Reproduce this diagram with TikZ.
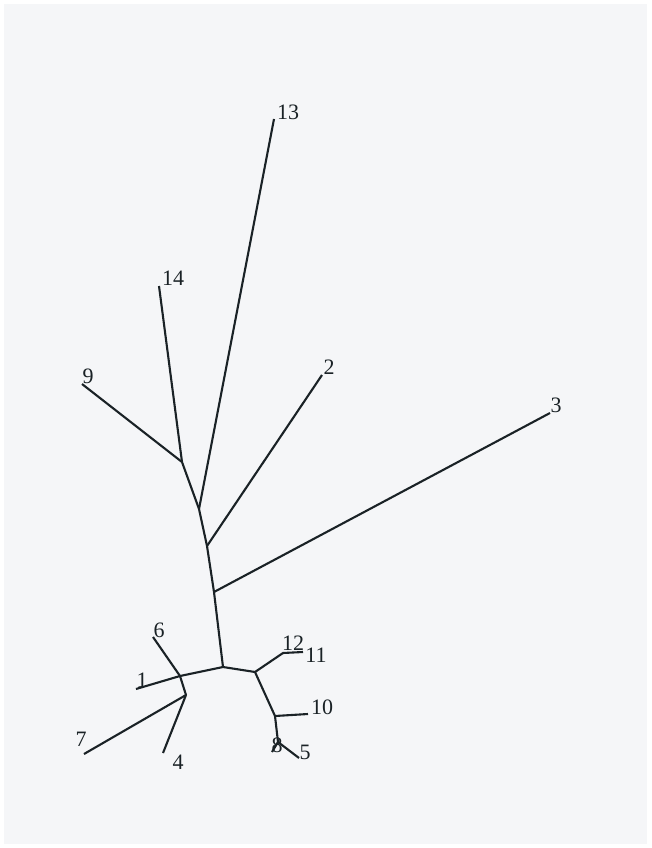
\documentclass[tikz,border=0pt]{standalone}
\usepackage{fontspec}
\setmainfont{Liberation Serif}
\definecolor{bg}{HTML}{F5F6F8}
\definecolor{ink}{HTML}{1A2226}
\begin{document}
\begin{tikzpicture}[x=1pt,y=-1pt,
  edge/.style={draw=ink,line width=2.1pt},
  lbl/.style={inner sep=0pt,text=ink,font=\fontsize{22}{22}\selectfont}]
\useasboundingbox (0,0) rectangle (651,848);
\fill[white] (0,0) rectangle (651,848);
\fill[bg] (4,4) rectangle (647,844);
% internal nodes
\coordinate (B) at (223,667);
\coordinate (J3) at (214,592);
\coordinate (J2) at (207,546);
\coordinate (J13) at (199,509);
\coordinate (J9) at (182,462);
\coordinate (A1) at (180,676);
\coordinate (A2) at (186,695);
\coordinate (C) at (255,672);
\coordinate (C12) at (283,653);
\coordinate (D) at (275,716);
\coordinate (E) at (278,742);
% leaves
\coordinate (l13) at (274,119);
\coordinate (l14) at (159,286);
\coordinate (l9) at (82,384);
\coordinate (l2) at (322,375);
\coordinate (l3) at (550,413);
\coordinate (l6) at (153,637);
\coordinate (l1) at (136,689);
\coordinate (l7) at (84,754);
\coordinate (l4) at (163,753);
\coordinate (l11) at (303,652);
\coordinate (l10) at (308,714);
\coordinate (l8) at (272,752);
\coordinate (l5) at (299,758);
% edges
\draw[edge] (B) -- (J3) -- (J2) -- (J13) -- (J9);
\draw[edge] (J9) -- (l14);
\draw[edge] (J9) -- (l9);
\draw[edge] (J13) -- (l13);
\draw[edge] (J2) -- (l2);
\draw[edge] (J3) -- (l3);
\draw[edge] (B) -- (A1);
\draw[edge] (A1) -- (l6);
\draw[edge] (A1) -- (l1);
\draw[edge] (A1) -- (A2);
\draw[edge] (A2) -- (l7);
\draw[edge] (A2) -- (l4);
\draw[edge] (B) -- (C);
\draw[edge] (C) -- (C12) -- (l11);
\draw[edge] (C) -- (D);
\draw[edge] (D) -- (l10);
\draw[edge] (D) -- (E);
\draw[edge] (E) -- (l8);
\draw[edge] (E) -- (l5);
% labels
\node[lbl] (t13) at (288,112) {13};
\node[lbl] (t14) at (173,278) {14};
\node[lbl] (t9) at (88,376) {9};
\node[lbl] (t2) at (329,367) {2};
\node[lbl] (t3) at (556,405) {3};
\node[lbl] (t6) at (159,630) {6};
\node[lbl] (t1) at (142,680) {1};
\node[lbl] (t7) at (81,739) {7};
\node[lbl] (t4) at (178,762) {4};
\node[lbl] (t12) at (293,643) {12};
\node[lbl] (t11) at (316,655) {11};
\node[lbl] (t10) at (322,707) {10};
\node[lbl] (t8) at (277,745) {8};
\node[lbl] (t5) at (305,752) {5};
\end{tikzpicture}
\end{document}
